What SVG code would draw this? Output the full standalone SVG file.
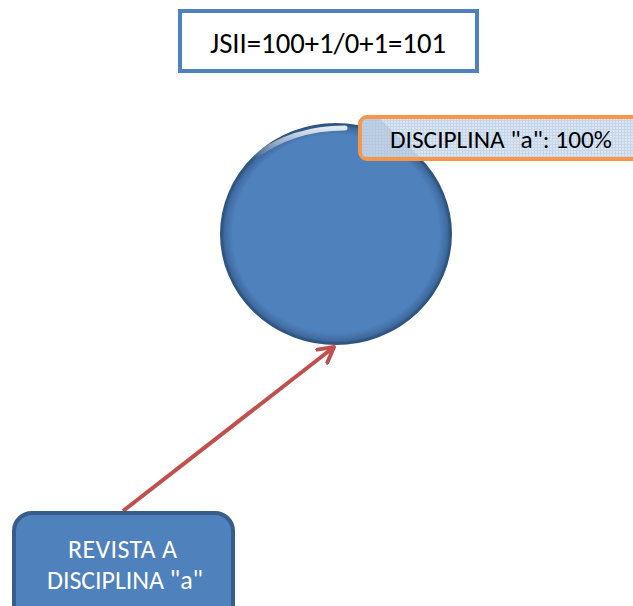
<svg xmlns="http://www.w3.org/2000/svg" width="633" height="606" viewBox="0 0 633 606">
  <style>
    .lbl { font-family: Carlito, Calibri, Lato, "Open Sans", "Liberation Sans", sans-serif; }
  </style>
  <defs>
    <radialGradient id="ballShade" cx="0.5" cy="0.5" r="0.5">
      <stop offset="0.9" stop-color="#4F81BD"/>
      <stop offset="0.97" stop-color="#3F6A9E"/>
      <stop offset="1" stop-color="#2C4D75"/>
    </radialGradient>
    <linearGradient id="rim" x1="0" y1="0" x2="0" y2="1">
      <stop offset="0" stop-color="#ffffff" stop-opacity="0.85"/>
      <stop offset="1" stop-color="#ffffff" stop-opacity="0"/>
    </linearGradient>
    <pattern id="grid" width="3" height="3" patternUnits="userSpaceOnUse">
      <rect width="3" height="3" fill="#DCE6F2"/>
      <path d="M0,0.5 H3 M0.5,0 V3" stroke="#C6D6EA" stroke-width="1"/>
    </pattern>
    <marker id="openArrow" viewBox="0 0 12 12" refX="10" refY="6" markerWidth="5" markerHeight="5" orient="auto" markerUnits="strokeWidth">
      <path d="M1,1 L10,6 L1,11" fill="none" stroke="#C0504D" stroke-width="2.4" stroke-linecap="round" stroke-linejoin="round"/>
    </marker>
  </defs>

  <g id="formula">
    <rect x="180" y="11" width="297" height="60" fill="#ffffff" stroke="#4F81BD" stroke-width="4"/>
    <text class="lbl" x="210" y="53" font-size="28.5" textLength="236" lengthAdjust="spacingAndGlyphs" fill="#000">JSII=100+1/0+1=101</text>
  </g>

  <g id="discipline-circle">
    <ellipse cx="336" cy="234" rx="115" ry="110" fill="url(#ballShade)" stroke="#2F5680" stroke-width="2"/>
    <path d="M250,160 Q290,128 345,128" fill="none" stroke="url(#rim)" stroke-width="5" stroke-linecap="round"/>
  </g>

  <g id="connectors">
    <line x1="123" y1="511" x2="334" y2="347" stroke="#C0504D" stroke-width="4" marker-end="url(#openArrow)"/>
  </g>

  <g id="share-label">
    <rect x="360" y="117" width="290" height="42" rx="7" fill="url(#grid)" stroke="#F79646" stroke-width="4"/>
    <path d="M362,119 L380,119 L420,157 L362,157 Z" fill="#A9BFD9" opacity="0.55"/>
    <text class="lbl" x="390" y="148" font-size="25" textLength="222" lengthAdjust="spacingAndGlyphs" fill="#000">DISCIPLINA "a":  100%</text>
  </g>

  <g id="journal">
    <rect x="14" y="513" width="219" height="110" rx="18" fill="#4F81BD" stroke="#385D8A" stroke-width="4"/>
    <text class="lbl" x="68" y="558" font-size="26" textLength="109" lengthAdjust="spacing" fill="#ffffff">REVISTA  A</text>
    <text class="lbl" x="47" y="589" font-size="26" textLength="156" lengthAdjust="spacing" fill="#ffffff">DISCIPLINA  "a"</text>
  </g>
</svg>
